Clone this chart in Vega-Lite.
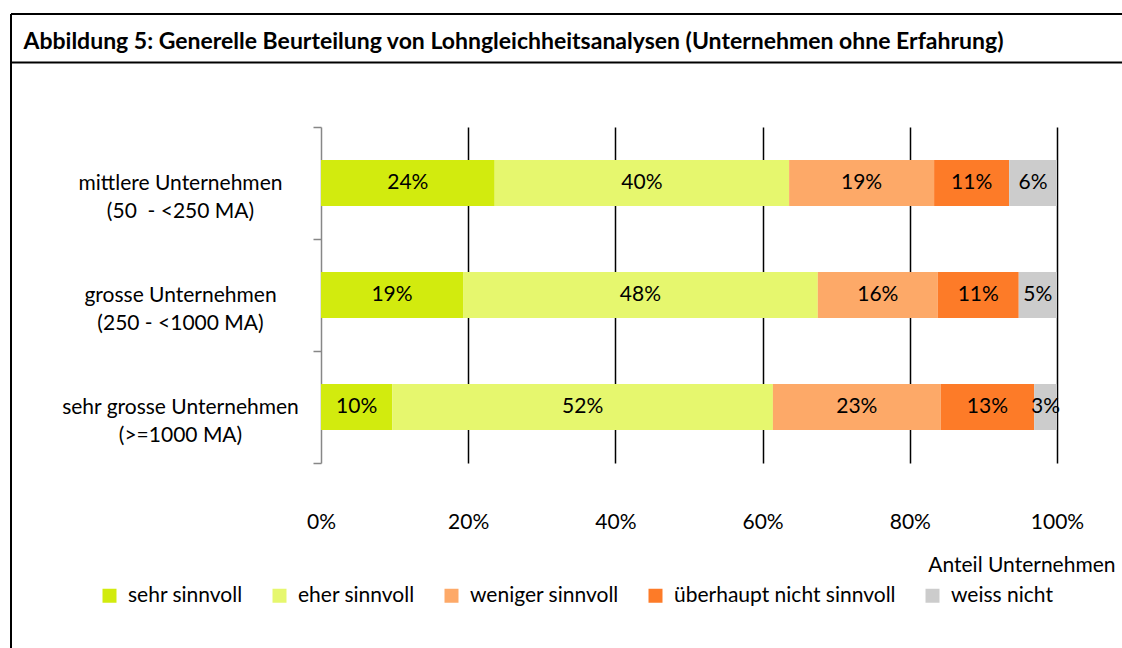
{
  "$schema": "https://vega.github.io/schema/vega-lite/v6.json",
  "width": 1111,
  "height": 634,
  "autosize": {"type": "none"},
  "padding": {"left": 11, "top": 14, "right": 0, "bottom": 0},
  "background": "white",
  "config": {
    "font": "Lato",
    "view": {"stroke": "black", "strokeWidth": 2, "strokeDash": [1111, 1745, 634, 0]}
  },
  "data": {
    "values": [
      {"cat": "mittlere Unternehmen|(50\u00a0 - <250 MA)", "answer": "sehr sinnvoll", "share": 23.6, "label": "24%"},
      {"cat": "mittlere Unternehmen|(50\u00a0 - <250 MA)", "answer": "eher sinnvoll", "share": 40.0, "label": "40%"},
      {"cat": "mittlere Unternehmen|(50\u00a0 - <250 MA)", "answer": "weniger sinnvoll", "share": 19.7, "label": "19%"},
      {"cat": "mittlere Unternehmen|(50\u00a0 - <250 MA)", "answer": "überhaupt nicht sinnvoll", "share": 10.2, "label": "11%"},
      {"cat": "mittlere Unternehmen|(50\u00a0 - <250 MA)", "answer": "weiss nicht", "share": 6.5, "label": "6%"},
      {"cat": "grosse Unternehmen|(250 - <1000 MA)", "answer": "sehr sinnvoll", "share": 19.3, "label": "19%"},
      {"cat": "grosse Unternehmen|(250 - <1000 MA)", "answer": "eher sinnvoll", "share": 48.2, "label": "48%"},
      {"cat": "grosse Unternehmen|(250 - <1000 MA)", "answer": "weniger sinnvoll", "share": 16.3, "label": "16%"},
      {"cat": "grosse Unternehmen|(250 - <1000 MA)", "answer": "überhaupt nicht sinnvoll", "share": 11.0, "label": "11%"},
      {"cat": "grosse Unternehmen|(250 - <1000 MA)", "answer": "weiss nicht", "share": 5.2, "label": "5%"},
      {"cat": "sehr grosse Unternehmen|(>=1000 MA)", "answer": "sehr sinnvoll", "share": 9.7, "label": "10%"},
      {"cat": "sehr grosse Unternehmen|(>=1000 MA)", "answer": "eher sinnvoll", "share": 51.7, "label": "52%"},
      {"cat": "sehr grosse Unternehmen|(>=1000 MA)", "answer": "weniger sinnvoll", "share": 22.8, "label": "23%"},
      {"cat": "sehr grosse Unternehmen|(>=1000 MA)", "answer": "überhaupt nicht sinnvoll", "share": 12.7, "label": "13%"},
      {"cat": "sehr grosse Unternehmen|(>=1000 MA)", "answer": "weiss nicht", "share": 3.1, "label": "3%"}
    ]
  },
  "transform": [
    {"stack": "share", "groupby": ["cat"], "as": ["x0", "x1"]},
    {"calculate": "(datum.x0 + datum.x1) / 2", "as": "mid"}
  ],
  "layer": [
    {
      "mark": {"type": "bar", "height": {"band": 0.41}},
      "encoding": {
        "y": {
          "field": "cat",
          "type": "nominal",
          "sort": null,
          "scale": {"range": [113, 449], "paddingInner": 0, "paddingOuter": 0},
          "axis": {
            "orient": "left",
            "offset": -310,
            "title": null,
            "grid": false,
            "domainColor": "#878787",
            "domainWidth": 1.5,
            "tickColor": "#878787",
            "tickWidth": 1.5,
            "tickSize": 8,
            "tickBand": "extent",
            "labelAlign": "center",
            "labelBaseline": "middle",
            "labelPadding": 133,
            "labelFont": "Lato",
            "labelFontSize": 21,
            "labelColor": "black",
            "labelLimit": 0,
            "labelLineHeight": 28,
            "labelExpr": "split(datum.label, '|')"
          }
        },
        "x": {
          "field": "x0",
          "type": "quantitative",
          "scale": {"domain": [-42.12, 108.83], "nice": false, "zero": false},
          "axis": {
            "orient": "bottom",
            "values": [0, 20, 40, 60, 80, 100],
            "labelExpr": "datum.value + '%'",
            "domain": false,
            "ticks": false,
            "tickSize": 0,
            "labelPadding": -137,
            "labelFlush": false,
            "labelFont": "Lato",
            "labelFontSize": 21,
            "labelColor": "black",
            "grid": false,
            "title": "Anteil Unternehmen",
            "titleFont": "Lato",
            "titleFontSize": 21,
            "titleFontWeight": "normal",
            "titleColor": "black",
            "titleAlign": "right",
            "titleBaseline": "middle",
            "titleX": 1104,
            "titleY": -83
          }
        },
        "x2": {"field": "x1"},
        "color": {
          "field": "answer",
          "type": "nominal",
          "scale": {
            "domain": ["sehr sinnvoll", "eher sinnvoll", "weniger sinnvoll", "überhaupt nicht sinnvoll", "weiss nicht"],
            "range": ["#D2EB0E", "#E6F76E", "#FDA968", "#FD7B28", "#CCCCCC"]
          },
          "legend": {
            "orient": "none",
            "legendX": 88,
            "legendY": 571,
            "direction": "horizontal",
            "title": null,
            "symbolType": "square",
            "symbolSize": 196,
            "symbolStrokeWidth": 0,
            "symbolOpacity": 1,
            "labelFont": "Lato",
            "labelFontSize": 21,
            "labelColor": "black",
            "labelOffset": 8,
            "columnPadding": 26,
            "labelLimit": 0
          }
        }
      }
    },
    {
      "mark": {"type": "text", "font": "Lato", "fontSize": 21, "color": "black", "align": "center", "baseline": "middle"},
      "encoding": {
        "y": {"field": "cat", "type": "nominal", "sort": null},
        "x": {
          "field": "mid",
          "type": "quantitative",
          "axis": {
            "orient": "top",
            "offset": -48,
            "values": [0, 20, 40, 60, 80, 100],
            "domain": true,
            "domainColor": "black",
            "domainWidth": 2,
            "labels": false,
            "ticks": false,
            "grid": true,
            "gridColor": "black",
            "gridWidth": 1.5,
            "gridOpacity": {"condition": {"test": "datum.value === 0", "value": 0}, "value": 1},
            "title": "Abbildung 5: Generelle Beurteilung von Lohngleichheitsanalysen (Unternehmen ohne Erfahrung)",
            "titleFont": "Lato",
            "titleFontSize": 23,
            "titleFontWeight": "bold",
            "titleColor": "black",
            "titleAlign": "left",
            "titleBaseline": "alphabetic",
            "titleX": 12,
            "titleY": -14
          }
        },
        "text": {"field": "label"}
      }
    }
  ],
  "resolve": {"axis": {"x": "independent"}}
}
